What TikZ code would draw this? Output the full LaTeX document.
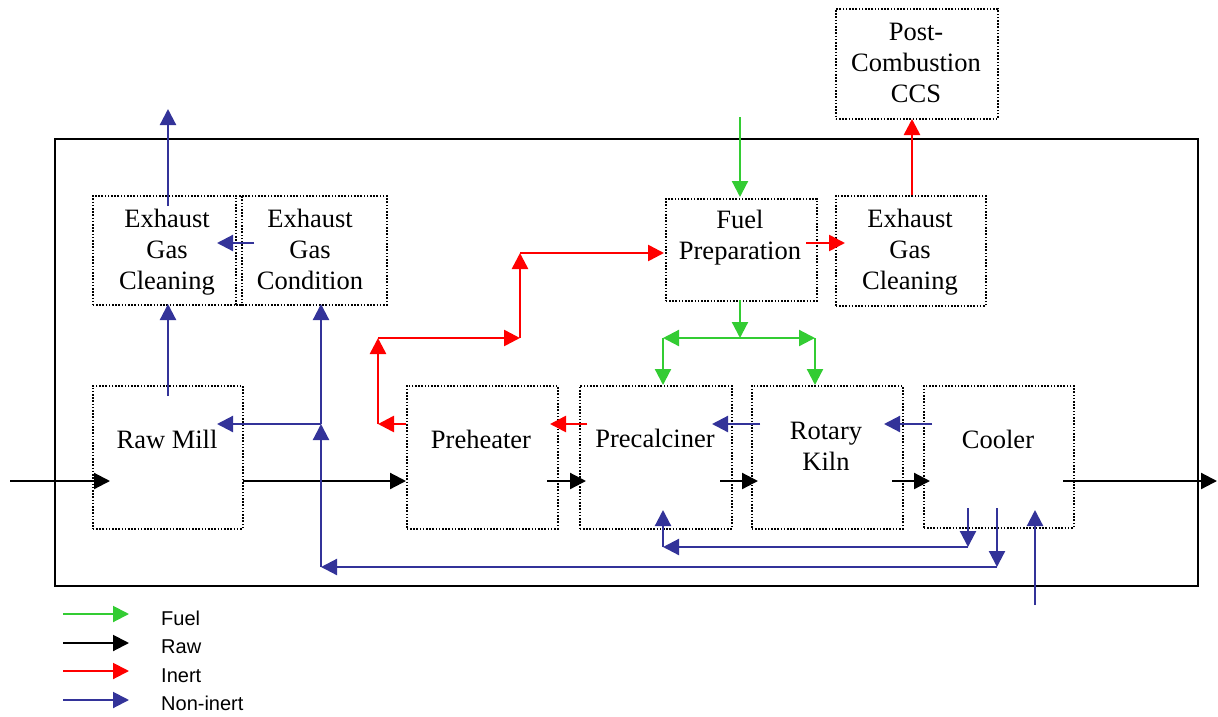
\documentclass[tikz,border=0pt]{standalone}
\usepackage{fontspec}
\setmainfont{Liberation Serif}
\newfontfamily\legendfont{Liberation Sans}
\usetikzlibrary{arrows.meta}

\definecolor{fuelgreen}{RGB}{51,204,51}
\definecolor{inertred}{RGB}{255,0,0}
\definecolor{gasblue}{RGB}{51,51,153}

\begin{document}
\begin{tikzpicture}[x=1pt,y=-1pt,
  unitbox/.style={draw=black, line width=1.6pt, dash pattern=on 1.6pt off 1.6pt,
    inner sep=0pt, anchor=north west},
  boxtext/.style={font=\fontsize{26.5}{31}\selectfont, align=center, anchor=base, inner sep=0pt},
  legtext/.style={font=\legendfont\fontsize{20}{24}\selectfont, anchor=base west, inner sep=0pt},
  flow/.style={line width=2.2pt, -{Triangle[length=16pt,width=16pt]}},
  flowfuel/.style={flow, draw=fuelgreen, fill=fuelgreen},
  flowraw/.style={flow, draw=black, fill=black},
  flowinert/.style={flow, draw=inertred, fill=inertred, line width=2.6pt},
  flowgas/.style={flow, draw=gasblue, fill=gasblue},
]
\useasboundingbox (0,0) rectangle (1218,716);

% plant boundary
\node[draw=black, line width=2.2pt, inner sep=0pt, anchor=north west,
  minimum width=1143pt, minimum height=447pt] (plant) at (54,138) {};

% process units
\node[unitbox, minimum width=149pt, minimum height=109pt] (egcleanL) at (92,195) {};
\node[unitbox, minimum width=151pt, minimum height=109pt] (egcond) at (235,195) {};
\node[unitbox, minimum width=151pt, minimum height=102pt] (fuelprep) at (665,198) {};
\node[unitbox, minimum width=150pt, minimum height=110pt] (egcleanR) at (835,195) {};
\node[unitbox, minimum width=162pt, minimum height=110pt] (ccs) at (835,8) {};
\node[unitbox, minimum width=150pt, minimum height=143pt] (rawmill) at (92,385) {};
\node[unitbox, minimum width=151pt, minimum height=143pt] (preheater) at (406,385) {};
\node[unitbox, minimum width=152pt, minimum height=143pt] (precalciner) at (579,385) {};
\node[unitbox, minimum width=151pt, minimum height=143pt] (kiln) at (751,385) {};
\node[unitbox, minimum width=150pt, minimum height=142pt] (cooler) at (923,385) {};

% unit labels (base anchor = baseline of the last line)
\node[boxtext] (egcleanLtxt) at (167,289) {Exhaust\\Gas\\Cleaning};
\node[boxtext] (egcondtxt) at (310,289) {Exhaust\\Gas\\Condition};
\node[boxtext] (fuelpreptxt) at (740,259) {Fuel\\Preparation};
\node[boxtext] (egcleanRtxt) at (910,289) {Exhaust\\Gas\\Cleaning};
\node[boxtext] (ccstxt) at (916,102) {Post-\\Combustion\\CCS};
\node[boxtext] (rawmilltxt) at (167,448) {Raw Mill};
\node[boxtext] (preheatertxt) at (481,448) {Preheater};
\node[boxtext] (precalcinertxt) at (655,447) {Precalciner};
\node[boxtext] (kilntxt) at (826,470) {Rotary\\Kiln};
\node[boxtext] (coolertxt) at (998,448) {Cooler};

% ports and bends
\coordinate (feed) at (10,481);
\coordinate (rm-in) at (110,481);
\coordinate (rm-out) at (243,481);
\coordinate (ph-in) at (406,481);
\coordinate (ph-out) at (547,481);
\coordinate (pc-in) at (586,481);
\coordinate (pc-out) at (720,481);
\coordinate (rk-in) at (758,481);
\coordinate (rk-out) at (892,481);
\coordinate (co-in) at (930,481);
\coordinate (co-out) at (1063,481);
\coordinate (product) at (1217,481);

\coordinate (stack-from) at (168,206);
\coordinate (stack) at (168,109);
\coordinate (rm-gas) at (168,396);
\coordinate (egL-in) at (168,304);
\coordinate (cond-out) at (254,243);
\coordinate (egL-side) at (217,243);
\coordinate (cond-in) at (321,304);
\coordinate (tee) at (321,424);
\coordinate (rm-hot) at (217,424);
\coordinate (ret-corner) at (321,567);
\coordinate (co-exh) at (997,508);
\coordinate (co-exh-b) at (997,567);
\coordinate (co-ter) at (968,508);
\coordinate (co-ter-b) at (968,547);
\coordinate (pc-ter-b) at (663,547);
\coordinate (pc-ter) at (663,510);
\coordinate (air) at (1035,605);
\coordinate (co-air) at (1035,510);
\coordinate (rk-gas) at (760,424);
\coordinate (pc-gas) at (712,424);
\coordinate (co-sec) at (932,424);
\coordinate (rk-sec) at (884,424);

\coordinate (pc-off) at (587,424);
\coordinate (ph-off-in) at (550,424);
\coordinate (ph-off) at (406,424);
\coordinate (r1) at (378,424);
\coordinate (r2) at (378,338);
\coordinate (r3) at (520,338);
\coordinate (r4) at (520,253);
\coordinate (fp-in) at (664,253);
\coordinate (fp-out) at (806,243);
\coordinate (egR-in) at (845,243);
\coordinate (egR-out) at (912,195);
\coordinate (ccs-in) at (912,119);

\coordinate (fuel-src) at (740,117);
\coordinate (fp-top) at (740,197);
\coordinate (fp-bot) at (740,300);
\coordinate (split) at (740,338);
\coordinate (gL) at (663,338);
\coordinate (gR) at (815,338);
\coordinate (pc-fuel) at (663,385);
\coordinate (rk-fuel) at (815,385);

% raw material
\draw[flowraw] (feed) -- (rm-in);
\draw[flowraw] (rm-out) -- (ph-in);
\draw[flowraw] (ph-out) -- (pc-in);
\draw[flowraw] (pc-out) -- (rk-in);
\draw[flowraw] (rk-out) -- (co-in);
\draw[flowraw] (co-out) -- (product);

% non-inert gases
\draw[flowgas] (stack-from) -- (stack);
\draw[flowgas] (rm-gas) -- (egL-in);
\draw[flowgas] (cond-out) -- (egL-side);
\draw[flowgas] (co-exh) -- (co-exh-b);
\draw[flowgas] (co-exh-b) -- (ret-corner);
\draw[flowgas] (ret-corner) -- (tee);
\draw[flowgas] (tee) -- (rm-hot);
\draw[flowgas] (tee) -- (cond-in);
\draw[flowgas] (co-ter) -- (co-ter-b);
\draw[flowgas] (co-ter-b) -- (pc-ter-b);
\draw[flowgas] (pc-ter-b) -- (pc-ter);
\draw[flowgas] (air) -- (co-air);
\draw[flowgas] (rk-gas) -- (pc-gas);
\draw[flowgas] (co-sec) -- (rk-sec);

% inert gases
\draw[flowinert] (pc-off) -- (ph-off-in);
\draw[flowinert] (ph-off) -- (r1);
\draw[flowinert] (r1) -- (r2);
\draw[flowinert] (r2) -- (r3);
\draw[flowinert] (r3) -- (r4);
\draw[flowinert] (r4) -- (fp-in);
\draw[flowinert] (fp-out) -- (egR-in);
\draw[flowinert] (egR-out) -- (ccs-in);

% fuel
\draw[flowfuel] (fuel-src) -- (fp-top);
\draw[flowfuel] (fp-bot) -- (split);
\draw[flowfuel] (split) -- (gL);
\draw[flowfuel] (gL) -- (pc-fuel);
\draw[flowfuel] (split) -- (gR);
\draw[flowfuel] (gR) -- (rk-fuel);

% legend
\coordinate (lf-a) at (63,614);  \coordinate (lf-b) at (129,614);
\coordinate (lr-a) at (63,643);  \coordinate (lr-b) at (129,643);
\coordinate (li-a) at (63,671);  \coordinate (li-b) at (129,671);
\coordinate (ln-a) at (63,700);  \coordinate (ln-b) at (129,700);
\draw[flowfuel, line width=2pt] (lf-a) -- (lf-b);
\draw[flowraw, line width=2pt] (lr-a) -- (lr-b);
\draw[flowinert, line width=2pt] (li-a) -- (li-b);
\draw[flowgas, line width=2pt] (ln-a) -- (ln-b);
\node[legtext] (legfuel) at (161,625) {Fuel};
\node[legtext] (legraw) at (161,653) {Raw};
\node[legtext] (leginert) at (161,682) {Inert};
\node[legtext] (legnoninert) at (161,710) {Non-inert};
\end{tikzpicture}
\end{document}
